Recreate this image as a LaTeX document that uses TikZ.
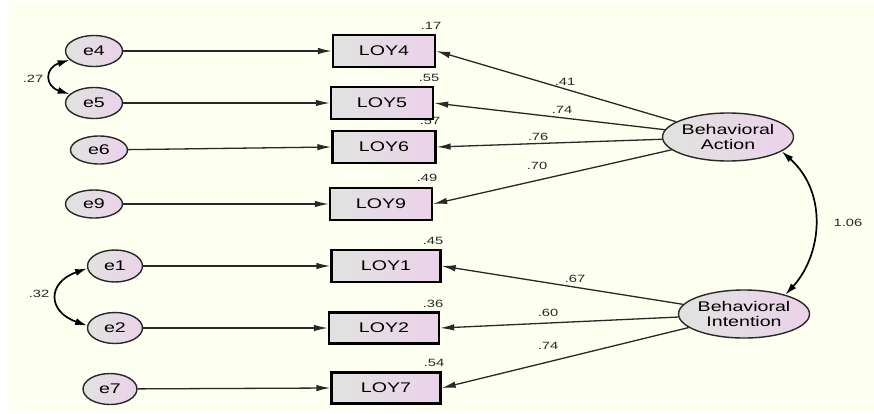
\documentclass[tikz,border=0pt]{standalone}
\usepackage{fontspec}
\setmainfont[FakeStretch=1.4]{Liberation Sans}
\usetikzlibrary{shapes.geometric,arrows.meta}
\definecolor{paper}{RGB}{253,255,240}
\definecolor{shadeL}{RGB}{224,227,223}
\definecolor{shadeR}{RGB}{236,210,234}
\definecolor{ink}{RGB}{40,40,40}
\begin{document}
\begin{tikzpicture}[x=1pt,y=-1pt,
  every node/.style={inner sep=0pt},
  filled/.style={left color=shadeL,right color=shadeR},
  errvar/.style={ellipse,draw=ink,line width=1.4pt,filled,minimum width=57pt,minimum height=31pt,
    font=\fontsize{14}{15}\selectfont},
  obsvar/.style={rectangle,draw=black,line width=2.3pt,filled,minimum width=103pt,minimum height=32pt,
    font=\fontsize{14}{15}\selectfont},
  latvar/.style={ellipse,draw=ink,line width=1.4pt,filled,minimum width=129pt,minimum height=48pt,
    align=center,font=\fontsize{14}{14.5}\selectfont},
  num/.style={font=\fontsize{10.5}{11}\selectfont,text=ink},
  path/.style={draw=ink,line width=1.3pt,-{Latex[length=14pt,width=6.5pt]}},
  cov/.style={draw=black,line width=1.7pt,{Latex[length=12pt,width=7pt]}-{Latex[length=12pt,width=7pt]}}]
\useasboundingbox (0,0) rectangle (874,413);
\fill[paper] (9,2) rectangle (874,411);

% squared multiple correlations
\node[num] (r4) at (431,26) {.17};
\node[num] (r5) at (429,78) {.55};
\node[num] (r6) at (430,121) {.57};
\node[num] (r9) at (427,178) {.49};
\node[num] (r1) at (433,241) {.45};
\node[num] (r2) at (433,304) {.36};
\node[num] (r7) at (434,363) {.54};

% error terms
\node[errvar] (e4) at (94,51) {e4};
\node[errvar] (e5) at (94,103) {e5};
\node[errvar,minimum height=28pt] (e6) at (99,150) {e6};
\node[errvar,minimum height=28pt] (e9) at (94,204) {e9};
\node[errvar,minimum width=55pt,minimum height=32pt] (e1) at (115,266) {e1};
\node[errvar,minimum width=55pt] (e2) at (115,328) {e2};
\node[errvar,minimum width=54pt] (e7) at (110,389) {e7};

% observed indicators
\node[obsvar,minimum width=102pt] (LOY4) at (384,51) {LOY4};
\node[obsvar,minimum width=102pt] (LOY5) at (382,103) {LOY5};
\node[obsvar,minimum width=103pt] (LOY6) at (384,147) {LOY6};
\node[obsvar,minimum width=102pt] (LOY9) at (381,204) {LOY9};
\node[obsvar,minimum width=109pt] (LOY1) at (386,266) {LOY1};
\node[obsvar,minimum width=110pt,minimum height=31pt] (LOY2) at (384,328) {LOY2};
\node[obsvar,minimum width=109pt,minimum height=31pt] (LOY7) at (386,388) {LOY7};

% latent factors
\node[latvar] (BA) at (728,137) {Behavioral\\Action};
\node[latvar] (BI) at (744,314) {Behavioral\\Intention};

% error paths
\foreach \e/\o in {e4/LOY4,e5/LOY5,e6/LOY6,e9/LOY9,e1/LOY1,e2/LOY2,e7/LOY7}
  \draw[path] (\e) -- (\o.west);

% loadings
\foreach \o in {LOY4,LOY5,LOY6,LOY9}
  \draw[path] (BA) -- (\o.east);
\foreach \o in {LOY1,LOY2,LOY7}
  \draw[path] (BI) -- (\o.east);

\node[num] (l4) at (565,82) {.41};
\node[num] (l5) at (562,110) {.74};
\node[num] (l6) at (538,137) {.76};
\node[num] (l9) at (537,166) {.70};
\node[num] (l1) at (575,279) {.67};
\node[num] (l2) at (548,313) {.60};
\node[num] (l7) at (548,346) {.74};

% covariances
\draw[cov] (e4.200) .. controls +(-25,8) and +(-25,-8) .. (e5.160);
\node[num] (c45) at (33,79) {.27};
\draw[cov] (e1.185) .. controls +(-40,14) and +(-40,-14) .. (e2.175);
\node[num] (c12) at (39,294) {.32};
\draw[cov] (BA.-15) .. controls +(47,42) and +(36,-39) .. (BI.25);
\node[num] (cab) at (848,223) {1.06};
\end{tikzpicture}
\end{document}
